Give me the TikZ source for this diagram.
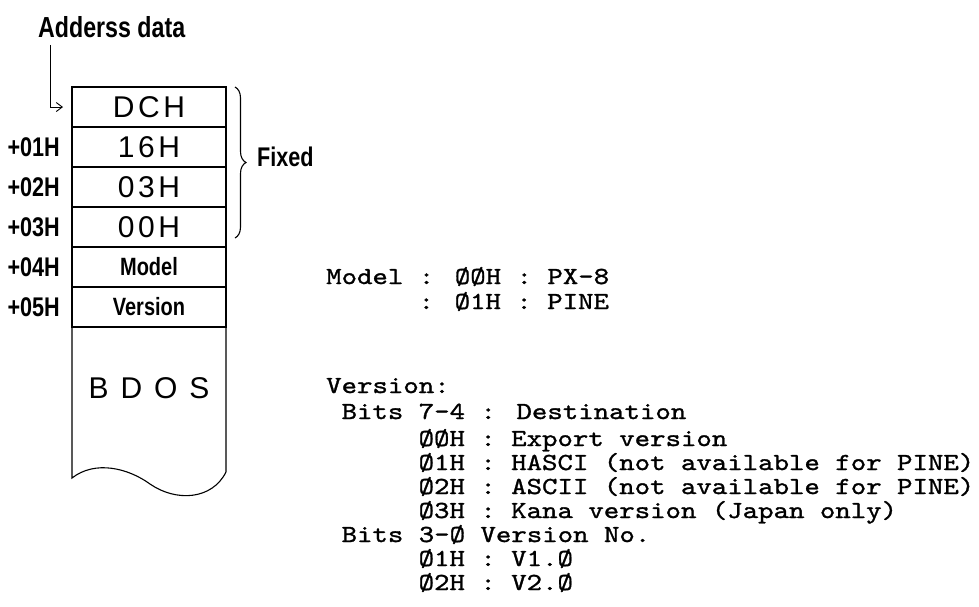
\documentclass[tikz,border=0pt]{standalone}
\usepackage{fontspec}
\usepackage{tikz}
\usetikzlibrary{positioning,arrows.meta,decorations.pathreplacing}
\newfontfamily\condfont[FakeStretch=0.8]{Liberation Sans}
\newfontfamily\cellfont[LetterSpace=12]{Liberation Sans}
\newfontfamily\typefont[FakeStretch=1.2,FakeBold=1.2]{lmmono10-regular.otf}

\begin{document}
\begin{tikzpicture}[x=1pt, y=-1pt,
  cell/.style={draw, line width=1.1pt, minimum width=154pt, minimum height=40pt, inner sep=0pt, outer sep=0pt},
  hexfont/.style={font=\cellfont\fontsize{30}{30}\selectfont},
  namefont/.style={font=\condfont\bfseries\fontsize{25}{25}\selectfont},
  offs/.style={font=\condfont\bfseries\fontsize{27}{27}\selectfont, inner sep=0pt},
  note/.style={font=\typefont\fontsize{24.5}{25}\selectfont, anchor=base west, inner sep=0pt,
    text height=15pt, text depth=3pt},
  >={Straight Barb[length=6pt, width=9pt]}]
\useasboundingbox (0,0) rectangle (979,606);
% memory cells
\node[cell, hexfont] (dch) at (149,107) {DCH};
\node[cell, hexfont, below=0pt of dch] (b16) {16H};
\node[cell, hexfont, below=0pt of b16] (b03) {03H};
\node[cell, hexfont, below=0pt of b03] (b00) {00H};
\node[cell, namefont, below=0pt of b00] (model) {Model};
\node[cell, namefont, below=0pt of model] (version) {Version};
\draw[line width=1.1pt] (version.south west) -- (72,478)
  .. controls (95,460) and (128,468) .. (150,484)
  .. controls (176,502) and (212,500) .. (226,472) -- (version.south east);
\node[hexfont] (bdos) at (149,388) {B D O S};
\foreach \r/\t in {b16/+01H, b03/+02H, b00/+03H, model/+04H, version/+05H}
  \node[offs, left=12pt of \r] (off-\r) {\t};
% address pointer
\node[offs, font=\condfont\bfseries\fontsize{29}{29}\selectfont, anchor=west] (addr) at (38,27) {Adderss data};
\draw[->, line width=0.9pt, shorten >=9pt] ([xshift=12pt,yshift=-7pt]addr.south west) |- (dch.west);
% fixed bytes
\draw[decorate, decoration={brace, amplitude=11pt}, line width=1.1pt]
  ([xshift=9pt]dch.north east) -- ([xshift=9pt,yshift=9pt]b00.south east);
\node[offs, anchor=west] (fixed) at (257,157) {Fixed};
% notes
\foreach \c/\b/\t [count=\i] in {0/284/{Model : ØØH : PX-8}, 6/309/{: Ø1H : PINE},
    0/393/{Version:}, 1/419/{Bits 7-4 : Destination},
    6/446/{ØØH : Export version}, 6/470/{Ø1H : HASCI (not available for PINE)},
    6/494/{Ø2H : ASCII (not available for PINE)}, 6/518/{Ø3H : Kana version (Japan only)},
    1/542/{Bits 3-Ø Version No.}, 6/566/{Ø1H : V1.Ø}, 6/590/{Ø2H : V2.Ø}}
  \node[note] (line\i) at ({326+\c*15.4},\b) {\t};
\end{tikzpicture}
\end{document}
